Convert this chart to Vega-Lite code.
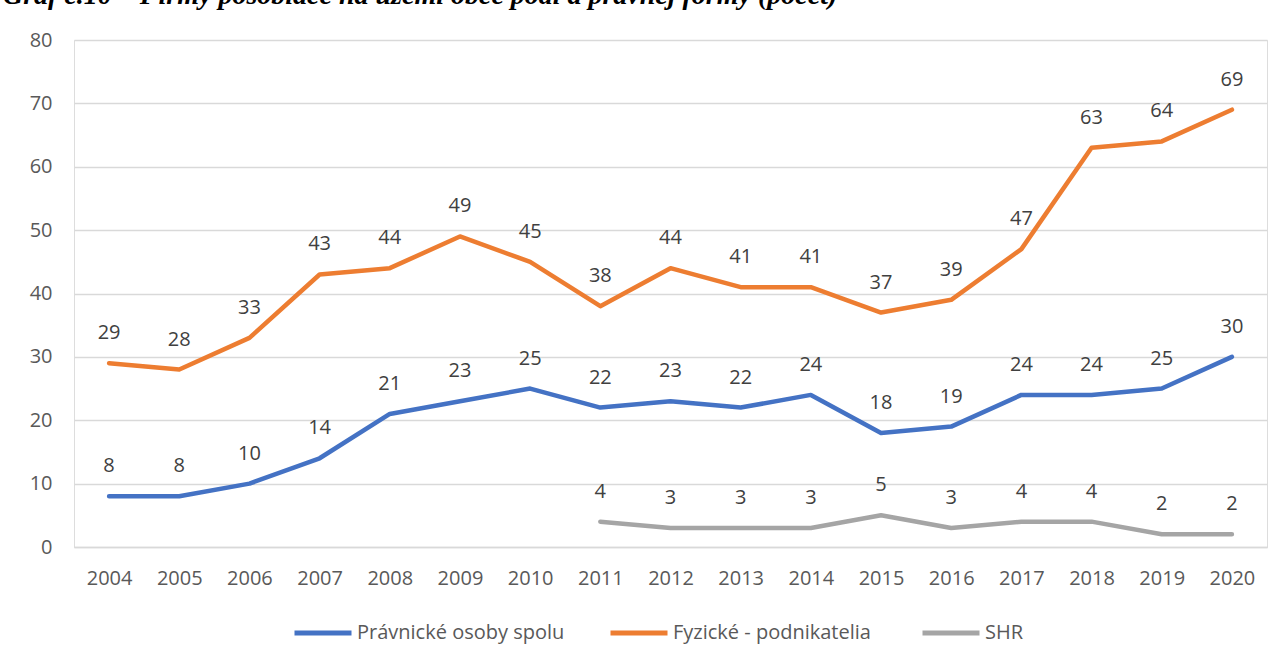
{
  "$schema": "https://vega.github.io/schema/vega-lite/v6.json",
  "autosize": {"type": "none"},
  "padding": {"left": 74, "top": 40, "right": 18, "bottom": 117},
  "width": 1193,
  "height": 507,
  "background": "white",
  "title": {
    "text": "Graf č.10 – Firmy pôsobiace na území obce podľa právnej formy (počet)",
    "anchor": "start",
    "frame": "group",
    "baseline": "alphabetic",
    "dx": -71,
    "offset": -2,
    "font": "Liberation Serif",
    "fontSize": 28,
    "fontWeight": "bold",
    "fontStyle": "italic",
    "color": "#000000"
  },
  "data": {
    "values": [
      {"rok": "2004", "seria": "Právnické osoby spolu", "pocet": 8},
      {"rok": "2005", "seria": "Právnické osoby spolu", "pocet": 8},
      {"rok": "2006", "seria": "Právnické osoby spolu", "pocet": 10},
      {"rok": "2007", "seria": "Právnické osoby spolu", "pocet": 14},
      {"rok": "2008", "seria": "Právnické osoby spolu", "pocet": 21},
      {"rok": "2009", "seria": "Právnické osoby spolu", "pocet": 23},
      {"rok": "2010", "seria": "Právnické osoby spolu", "pocet": 25},
      {"rok": "2011", "seria": "Právnické osoby spolu", "pocet": 22},
      {"rok": "2012", "seria": "Právnické osoby spolu", "pocet": 23},
      {"rok": "2013", "seria": "Právnické osoby spolu", "pocet": 22},
      {"rok": "2014", "seria": "Právnické osoby spolu", "pocet": 24},
      {"rok": "2015", "seria": "Právnické osoby spolu", "pocet": 18},
      {"rok": "2016", "seria": "Právnické osoby spolu", "pocet": 19},
      {"rok": "2017", "seria": "Právnické osoby spolu", "pocet": 24},
      {"rok": "2018", "seria": "Právnické osoby spolu", "pocet": 24},
      {"rok": "2019", "seria": "Právnické osoby spolu", "pocet": 25},
      {"rok": "2020", "seria": "Právnické osoby spolu", "pocet": 30},
      {"rok": "2004", "seria": "Fyzické  - podnikatelia", "pocet": 29},
      {"rok": "2005", "seria": "Fyzické  - podnikatelia", "pocet": 28},
      {"rok": "2006", "seria": "Fyzické  - podnikatelia", "pocet": 33},
      {"rok": "2007", "seria": "Fyzické  - podnikatelia", "pocet": 43},
      {"rok": "2008", "seria": "Fyzické  - podnikatelia", "pocet": 44},
      {"rok": "2009", "seria": "Fyzické  - podnikatelia", "pocet": 49},
      {"rok": "2010", "seria": "Fyzické  - podnikatelia", "pocet": 45},
      {"rok": "2011", "seria": "Fyzické  - podnikatelia", "pocet": 38},
      {"rok": "2012", "seria": "Fyzické  - podnikatelia", "pocet": 44},
      {"rok": "2013", "seria": "Fyzické  - podnikatelia", "pocet": 41},
      {"rok": "2014", "seria": "Fyzické  - podnikatelia", "pocet": 41},
      {"rok": "2015", "seria": "Fyzické  - podnikatelia", "pocet": 37},
      {"rok": "2016", "seria": "Fyzické  - podnikatelia", "pocet": 39},
      {"rok": "2017", "seria": "Fyzické  - podnikatelia", "pocet": 47},
      {"rok": "2018", "seria": "Fyzické  - podnikatelia", "pocet": 63},
      {"rok": "2019", "seria": "Fyzické  - podnikatelia", "pocet": 64},
      {"rok": "2020", "seria": "Fyzické  - podnikatelia", "pocet": 69},
      {"rok": "2011", "seria": "SHR", "pocet": 4},
      {"rok": "2012", "seria": "SHR", "pocet": 3},
      {"rok": "2013", "seria": "SHR", "pocet": 3},
      {"rok": "2014", "seria": "SHR", "pocet": 3},
      {"rok": "2015", "seria": "SHR", "pocet": 5},
      {"rok": "2016", "seria": "SHR", "pocet": 3},
      {"rok": "2017", "seria": "SHR", "pocet": 4},
      {"rok": "2018", "seria": "SHR", "pocet": 4},
      {"rok": "2019", "seria": "SHR", "pocet": 2},
      {"rok": "2020", "seria": "SHR", "pocet": 2}
    ]
  },
  "encoding": {
    "x": {
      "field": "rok",
      "type": "ordinal",
      "scale": {"type": "point", "padding": 0.5},
      "axis": {
        "title": null,
        "labelAngle": 0,
        "labelFont": "Open Sans",
        "labelFontSize": 20,
        "labelColor": "#595959",
        "labelPadding": 21,
        "ticks": false,
        "domainColor": "#d9d9d9",
        "domainWidth": 1.3,
        "grid": false
      }
    },
    "y": {
      "field": "pocet",
      "type": "quantitative",
      "scale": {"domain": [0, 80]},
      "axis": {
        "title": null,
        "values": [0, 10, 20, 30, 40, 50, 60, 70, 80],
        "labelFont": "Open Sans",
        "labelFontSize": 20,
        "labelColor": "#595959",
        "labelPadding": 22,
        "ticks": false,
        "domain": false,
        "gridColor": "#d9d9d9",
        "gridWidth": 1.3
      }
    },
    "color": {
      "field": "seria",
      "type": "nominal",
      "scale": {
        "domain": ["Právnické osoby spolu", "Fyzické  - podnikatelia", "SHR"],
        "range": ["#4472C4", "#ED7D31", "#A5A5A5"]
      },
      "legend": {
        "title": null,
        "orient": "none",
        "legendX": 218,
        "legendY": 562,
        "padding": 0,
        "direction": "horizontal",
        "symbolType": "stroke",
        "symbolSize": 3249,
        "symbolStrokeWidth": 5,
        "labelFont": "Open Sans",
        "labelFontSize": 20,
        "labelColor": "#595959",
        "labelOffset": 3,
        "columnPadding": 35,
        "labelLimit": 400
      }
    }
  },
  "layer": [
    {
      "mark": {"type": "line", "strokeWidth": 4.5, "strokeCap": "round", "strokeJoin": "round"}
    },
    {
      "mark": {"type": "text", "font": "Open Sans", "fontSize": 20, "baseline": "alphabetic", "dy": -24},
      "encoding": {
        "text": {"field": "pocet", "type": "quantitative"},
        "color": {"value": "#404040"}
      }
    }
  ]
}
